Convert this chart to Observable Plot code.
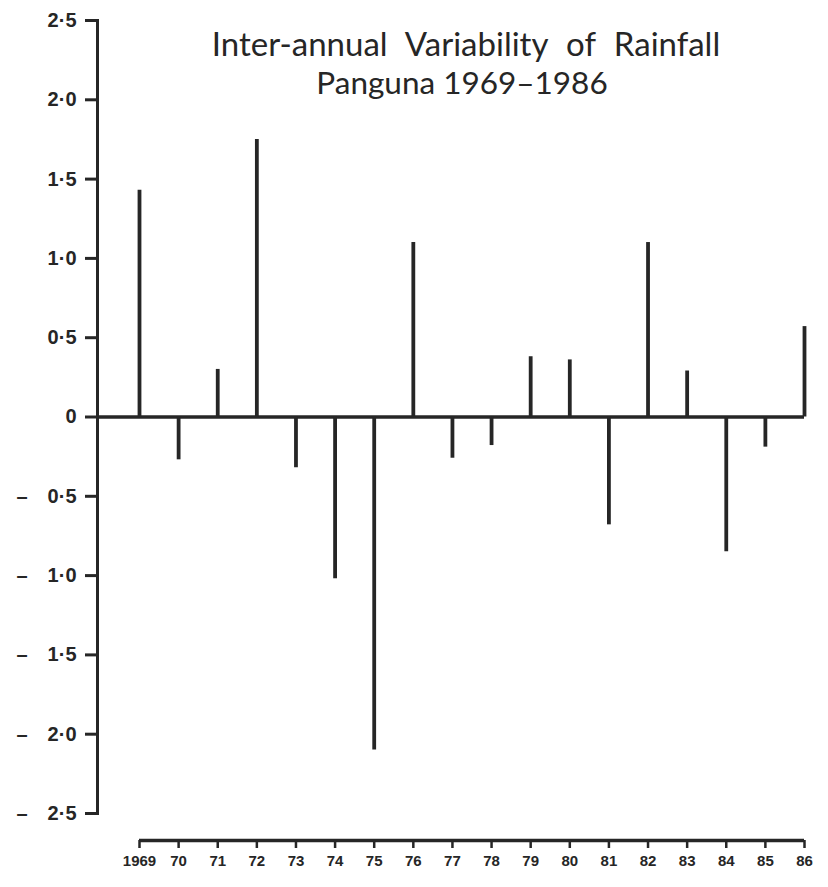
<!DOCTYPE html>
<html>
<head>
<meta charset="utf-8">
<script src="https://cdn.jsdelivr.net/npm/d3@7"></script>
<script src="https://cdn.jsdelivr.net/npm/@observablehq/plot@0.6"></script>
<style>
  html, body { margin: 0; padding: 0; background: #fff; }
  #chart svg { display: block; }
</style>
</head>
<body>
<div id="chart"></div>
<script>
const titleLines = ["Inter-annual Variability of Rainfall", "Panguna 1969\u20131986"];
const years = [1969, 1970, 1971, 1972, 1973, 1974, 1975, 1976, 1977, 1978, 1979, 1980, 1981, 1982, 1983, 1984, 1985, 1986];
const anomalies = [1.43, -0.27, 0.30, 1.75, -0.32, -1.02, -2.10, 1.10, -0.26, -0.18, 0.38, 0.36, -0.68, 1.10, 0.29, -0.85, -0.19, 0.57];
const yTicks = [2.5, 2.0, 1.5, 1.0, 0.5, 0, -0.5, -1.0, -1.5, -2.0, -2.5];
const xTickLabels = ["1969", "70", "71", "72", "73", "74", "75", "76", "77", "78", "79", "80", "81", "82", "83", "84", "85", "86"];

const data = years.map((year, i) => ({year, value: anomalies[i]}));
const ink = "#262626";

const fmtY = v => {
  if (v === 0) return "0";
  const s = Math.abs(v).toFixed(1).replace(".", "\u00b7");
  return v < 0 ? "\u2013\u2002\u2002" + s : s;
};
const fmtX = d => xTickLabels[years.indexOf(d)];

const chart = Plot.plot({
  width: 828,
  height: 887,
  marginLeft: 97,
  marginRight: 24,
  marginTop: 20,
  marginBottom: 74,
  style: {background: "#fff", color: ink, fontFamily: "Liberation Sans, Arial, sans-serif"},
  x: {domain: [1969, 1986], range: [139, 804]},
  y: {domain: [-2.5, 2.5]},
  marks: [
    Plot.frame({anchor: "left", stroke: ink, strokeWidth: 3}),
    Plot.axisY({
      ticks: yTicks, tickFormat: fmtY, tickSize: 12, tickPadding: 9,
      strokeWidth: 3, stroke: ink, fill: ink,
      fontSize: 20, fontWeight: "bold", label: null
    }),
    Plot.ruleY([0], {stroke: ink, strokeWidth: 3.5}),
    Plot.ruleX(data, {x: "year", y1: 0, y2: "value", stroke: ink, strokeWidth: 3.8}),
    Plot.ruleY([-2.5], {x1: years[0], x2: years[years.length - 1], dy: 27, stroke: ink, strokeWidth: 3.5}),
    Plot.axisX({
      ticks: years, tickFormat: fmtX, tickSize: 8, tickPadding: 7, dy: 27,
      strokeWidth: 2.5, stroke: ink, fill: ink,
      fontSize: 15, fontWeight: "bold", label: null
    }),
    Plot.text([titleLines[0]], {
      frameAnchor: "top", dx: 15, dy: 35, lineAnchor: "bottom",
      text: d => d, fill: ink, fontSize: 33, fontFamily: "Lato, sans-serif"
    }),
    Plot.text([titleLines[1]], {
      frameAnchor: "top", dx: 11, dy: 73, lineAnchor: "bottom",
      text: d => d, fill: ink, fontSize: 31.5, fontFamily: "Lato, sans-serif"
    })
  ]
});
d3.select(chart).selectAll("text")
  .filter(function() { return this.textContent === titleLines[0]; })
  .style("word-spacing", "10px");
document.getElementById("chart").appendChild(chart);
</script>
</body>
</html>
